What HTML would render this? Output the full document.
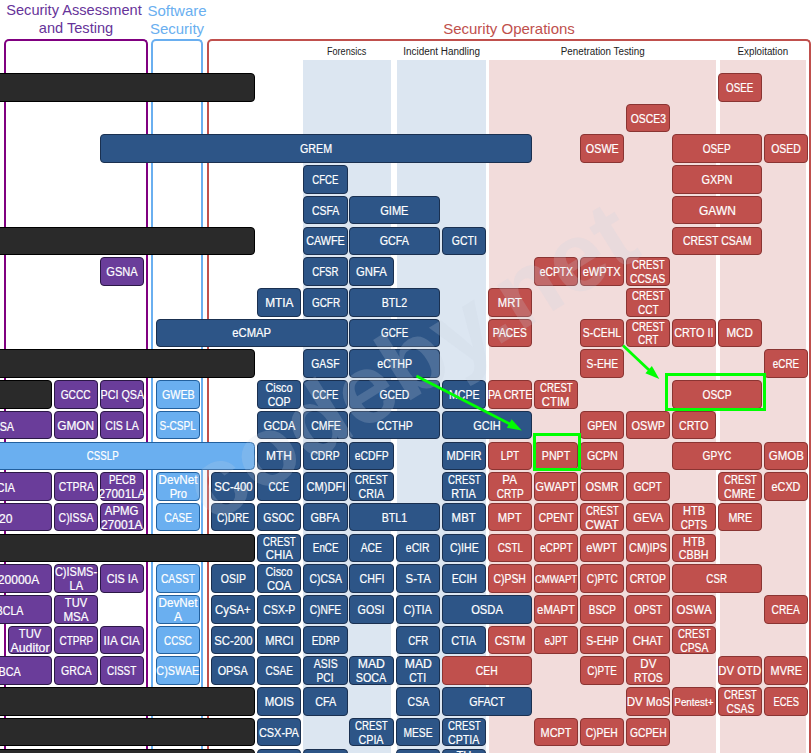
<!DOCTYPE html>
<html><head><meta charset="utf-8"><style>
*{margin:0;padding:0;box-sizing:border-box}
html,body{width:811px;height:753px;overflow:hidden;background:#fff}
body{position:relative;font-family:"Liberation Sans",sans-serif}
.bx{position:absolute;border:1px solid;border-radius:4px;display:flex;padding-top:3px;align-items:center;justify-content:center;color:#fff;font-size:12px;line-height:13.9px;text-align:center;white-space:nowrap;overflow:visible}
.bx span{display:inline-block;-webkit-text-stroke:0.2px #fff}
.bx.sm{font-size:10px}
.flat{border-radius:0 4.5px 4.5px 0}
.sec{position:absolute;border:2px solid;border-bottom:none;border-radius:5px 5px 0 0}
.hd{position:absolute;text-align:center;font-size:15px;line-height:17.6px;white-space:nowrap}
.sub{position:absolute;text-align:center;font-size:10px;color:#222;white-space:nowrap}
.band{position:absolute;top:60px;height:700px}
.et{position:absolute;color:#fff;font-size:12px;white-space:nowrap;display:flex;align-items:center;justify-content:flex-end;padding-top:3px}
.et span{display:inline-block;transform-origin:100% 50%;-webkit-text-stroke:0.2px #fff}
</style></head><body>
<div class="hd" style="left:0;width:152px;top:2.2px;font-size:14.6px;line-height:17.6px;color:#663399">Security Assessment&nbsp;<br>and Testing</div>
<div class="hd" style="left:147px;width:60px;top:1.8px;line-height:18px;color:#6aaff0">Software<br>Security</div>
<div class="hd" style="left:207px;width:604px;top:20.2px;color:#c0504d">Security Operations</div>
<div class="sec" style="left:4px;top:39px;width:144px;height:800px;border-color:#800080"></div>
<div class="sec" style="left:151px;top:39px;width:52px;height:800px;border-color:#6aaff0"></div>
<div class="sec" style="left:207px;top:39px;width:604px;height:800px;border-color:#c0504d"></div>
<div class="band" style="left:303px;width:88px;background:#dce6f1"></div>
<div class="band" style="left:397px;width:89px;background:#dce6f1"></div>
<div class="band" style="left:489px;width:226.5px;background:#f2dcdb"></div>
<div class="band" style="left:720px;width:86px;background:#f2dcdb"></div>
<div class="sub" style="left:303px;width:88px;top:45.5px"><span style="display:inline-block;transform:scaleX(0.910)">Forensics</span></div>
<div class="sub" style="left:397px;width:89px;top:45.5px"><span style="display:inline-block;transform:scaleX(0.993)">Incident Handling</span></div>
<div class="sub" style="left:489px;width:226.5px;top:45.5px"><span style="display:inline-block;transform:scaleX(0.981)">Penetration Testing</span></div>
<div class="sub" style="left:720px;width:86px;top:45.5px"><span style="display:inline-block;transform:scaleX(0.979)">Exploitation</span></div>
<div class="bx" style="left:-60px;top:73px;width:315px;height:28.55px;background:#2a2a2a;border-color:#000000;"></div>
<div class="bx" style="left:-60px;top:226.55px;width:315px;height:28.55px;background:#2a2a2a;border-color:#000000;"></div>
<div class="bx" style="left:-60px;top:349.39px;width:315px;height:28.55px;background:#2a2a2a;border-color:#000000;"></div>
<div class="bx" style="left:-60px;top:533.65px;width:315px;height:28.55px;background:#2a2a2a;border-color:#000000;"></div>
<div class="bx" style="left:-60px;top:687.2px;width:315px;height:28.55px;background:#2a2a2a;border-color:#000000;"></div>
<div class="bx" style="left:-60px;top:717.91px;width:315px;height:28.55px;background:#2a2a2a;border-color:#000000;"></div>
<div class="bx" style="left:-60px;top:748.62px;width:315px;height:28.55px;background:#2a2a2a;border-color:#000000;"></div>
<div class="bx" style="left:-60px;top:380.1px;width:112px;height:28.55px;background:#2a2a2a;border-color:#000000;"></div>
<div class="bx" style="left:718px;top:73px;width:44px;height:28.55px;background:#c0504d;border-color:#8a3432;"><div><span style="transform:scaleX(0.816)">OSEE</span></div></div>
<div class="bx" style="left:626px;top:103.71px;width:44px;height:28.55px;background:#c0504d;border-color:#8a3432;"><div><span style="transform:scaleX(0.865)">OSCE3</span></div></div>
<div class="bx" style="left:100px;top:134.42px;width:432px;height:28.55px;background:#2d5587;border-color:#1a3050;"><div><span style="transform:scaleX(0.892)">GREM</span></div></div>
<div class="bx" style="left:580px;top:134.42px;width:44px;height:28.55px;background:#c0504d;border-color:#8a3432;"><div><span style="transform:scaleX(0.899)">OSWE</span></div></div>
<div class="bx" style="left:672px;top:134.42px;width:90px;height:28.55px;background:#c0504d;border-color:#8a3432;"><div><span style="transform:scaleX(0.835)">OSEP</span></div></div>
<div class="bx" style="left:764px;top:134.42px;width:44px;height:28.55px;background:#c0504d;border-color:#8a3432;"><div><span style="transform:scaleX(0.870)">OSED</span></div></div>
<div class="bx" style="left:303px;top:165.13px;width:45px;height:28.55px;background:#2d5587;border-color:#1a3050;"><div><span style="transform:scaleX(0.799)">CFCE</span></div></div>
<div class="bx" style="left:672px;top:165.13px;width:90px;height:28.55px;background:#c0504d;border-color:#8a3432;"><div><span style="transform:scaleX(0.907)">GXPN</span></div></div>
<div class="bx" style="left:303px;top:195.84px;width:45px;height:28.55px;background:#2d5587;border-color:#1a3050;"><div><span style="transform:scaleX(0.870)">CSFA</span></div></div>
<div class="bx" style="left:349px;top:195.84px;width:91px;height:28.55px;background:#2d5587;border-color:#1a3050;"><div><span style="transform:scaleX(0.921)">GIME</span></div></div>
<div class="bx" style="left:672px;top:195.84px;width:90px;height:28.55px;background:#c0504d;border-color:#8a3432;"><div><span style="transform:scaleX(0.998)">GAWN</span></div></div>
<div class="bx" style="left:303px;top:226.55px;width:45px;height:28.55px;background:#2d5587;border-color:#1a3050;"><div><span style="transform:scaleX(0.900)">CAWFE</span></div></div>
<div class="bx" style="left:349px;top:226.55px;width:91px;height:28.55px;background:#2d5587;border-color:#1a3050;"><div><span style="transform:scaleX(0.893)">GCFA</span></div></div>
<div class="bx" style="left:442px;top:226.55px;width:44px;height:28.55px;background:#2d5587;border-color:#1a3050;"><div><span style="transform:scaleX(0.872)">GCTI</span></div></div>
<div class="bx" style="left:672px;top:226.55px;width:90px;height:28.55px;background:#c0504d;border-color:#8a3432;"><div><span style="transform:scaleX(0.874)">CREST CSAM</span></div></div>
<div class="bx" style="left:100px;top:257.26px;width:44px;height:28.55px;background:#6a3d9a;border-color:#2b1846;"><div><span style="transform:scaleX(0.925)">GSNA</span></div></div>
<div class="bx" style="left:303px;top:257.26px;width:45px;height:28.55px;background:#2d5587;border-color:#1a3050;"><div><span style="transform:scaleX(0.805)">CFSR</span></div></div>
<div class="bx" style="left:349px;top:257.26px;width:45px;height:28.55px;background:#2d5587;border-color:#1a3050;"><div><span style="transform:scaleX(0.942)">GNFA</span></div></div>
<div class="bx" style="left:534px;top:257.26px;width:44px;height:28.55px;background:#c0504d;border-color:#8a3432;"><div><span style="transform:scaleX(0.863)">eCPTX</span></div></div>
<div class="bx" style="left:580px;top:257.26px;width:44px;height:28.55px;background:#c0504d;border-color:#8a3432;"><div><span style="transform:scaleX(0.916)">eWPTX</span></div></div>
<div class="bx two" style="left:626px;top:257.26px;width:44px;height:28.55px;background:#c0504d;border-color:#8a3432;"><div><span style="transform:scaleX(0.809)">CREST</span><br><span style="transform:scaleX(0.850)">CCSAS</span></div></div>
<div class="bx" style="left:257px;top:287.97px;width:44px;height:28.55px;background:#2d5587;border-color:#1a3050;"><div><span style="transform:scaleX(0.991)">MTIA</span></div></div>
<div class="bx" style="left:303px;top:287.97px;width:45px;height:28.55px;background:#2d5587;border-color:#1a3050;"><div><span style="transform:scaleX(0.830)">GCFR</span></div></div>
<div class="bx" style="left:349px;top:287.97px;width:91px;height:28.55px;background:#2d5587;border-color:#1a3050;"><div><span style="transform:scaleX(0.886)">BTL2</span></div></div>
<div class="bx" style="left:488px;top:287.97px;width:44px;height:28.55px;background:#c0504d;border-color:#8a3432;"><div><span style="transform:scaleX(0.939)">MRT</span></div></div>
<div class="bx two" style="left:626px;top:287.97px;width:44px;height:28.55px;background:#c0504d;border-color:#8a3432;"><div><span style="transform:scaleX(0.809)">CREST</span><br><span style="transform:scaleX(0.842)">CCT</span></div></div>
<div class="bx" style="left:156px;top:318.68px;width:192px;height:28.55px;background:#2d5587;border-color:#1a3050;"><div><span style="transform:scaleX(0.937)">eCMAP</span></div></div>
<div class="bx" style="left:349px;top:318.68px;width:91px;height:28.55px;background:#2d5587;border-color:#1a3050;"><div><span style="transform:scaleX(0.813)">GCFE</span></div></div>
<div class="bx" style="left:488px;top:318.68px;width:44px;height:28.55px;background:#c0504d;border-color:#8a3432;"><div><span style="transform:scaleX(0.858)">PACES</span></div></div>
<div class="bx" style="left:580px;top:318.68px;width:44px;height:28.55px;background:#c0504d;border-color:#8a3432;"><div><span style="transform:scaleX(0.870)">S-CEHL</span></div></div>
<div class="bx two" style="left:626px;top:318.68px;width:44px;height:28.55px;background:#c0504d;border-color:#8a3432;"><div><span style="transform:scaleX(0.809)">CREST</span><br><span style="transform:scaleX(0.843)">CRT</span></div></div>
<div class="bx" style="left:672px;top:318.68px;width:44px;height:28.55px;background:#c0504d;border-color:#8a3432;"><div><span style="transform:scaleX(0.902)">CRTO II</span></div></div>
<div class="bx" style="left:718px;top:318.68px;width:44px;height:28.55px;background:#c0504d;border-color:#8a3432;"><div><span style="transform:scaleX(0.966)">MCD</span></div></div>
<div class="bx" style="left:303px;top:349.39px;width:45px;height:28.55px;background:#2d5587;border-color:#1a3050;"><div><span style="transform:scaleX(0.866)">GASF</span></div></div>
<div class="bx" style="left:349px;top:349.39px;width:91px;height:28.55px;background:#2d5587;border-color:#1a3050;"><div><span style="transform:scaleX(0.887)">eCTHP</span></div></div>
<div class="bx" style="left:580px;top:349.39px;width:44px;height:28.55px;background:#c0504d;border-color:#8a3432;"><div><span style="transform:scaleX(0.862)">S-EHE</span></div></div>
<div class="bx" style="left:764px;top:349.39px;width:44px;height:28.55px;background:#c0504d;border-color:#8a3432;"><div><span style="transform:scaleX(0.822)">eCRE</span></div></div>
<div class="bx" style="left:54px;top:380.1px;width:44px;height:28.55px;background:#6a3d9a;border-color:#2b1846;"><div><span style="transform:scaleX(0.847)">GCCC</span></div></div>
<div class="bx" style="left:100px;top:380.1px;width:44px;height:28.55px;background:#6a3d9a;border-color:#2b1846;"><div><span style="transform:scaleX(0.897)">PCI QSA</span></div></div>
<div class="bx" style="left:156px;top:380.1px;width:44px;height:28.55px;background:#6aaff0;border-color:#22609e;"><div><span style="transform:scaleX(0.896)">GWEB</span></div></div>
<div class="bx two" style="left:257px;top:380.1px;width:44px;height:28.55px;background:#2d5587;border-color:#1a3050;"><div><span style="transform:scaleX(0.905)">Cisco</span><br><span style="transform:scaleX(0.875)">COP</span></div></div>
<div class="bx" style="left:303px;top:380.1px;width:45px;height:28.55px;background:#2d5587;border-color:#1a3050;"><div><span style="transform:scaleX(0.799)">CCFE</span></div></div>
<div class="bx" style="left:349px;top:380.1px;width:91px;height:28.55px;background:#2d5587;border-color:#1a3050;"><div><span style="transform:scaleX(0.859)">GCED</span></div></div>
<div class="bx" style="left:442px;top:380.1px;width:44px;height:28.55px;background:#2d5587;border-color:#1a3050;"><div><span style="transform:scaleX(0.883)">MCPE</span></div></div>
<div class="bx" style="left:488px;top:380.1px;width:44px;height:28.55px;background:#c0504d;border-color:#8a3432;"><div><span style="transform:scaleX(0.885)">PA CRTE</span></div></div>
<div class="bx two" style="left:534px;top:380.1px;width:44px;height:28.55px;background:#c0504d;border-color:#8a3432;"><div><span style="transform:scaleX(0.809)">CREST</span><br><span style="transform:scaleX(0.941)">CTIM</span></div></div>
<div class="bx" style="left:672px;top:380.1px;width:90px;height:28.55px;background:#c0504d;border-color:#8a3432;"><div><span style="transform:scaleX(0.856)">OSCP</span></div></div>
<div class="bx" style="left:-60px;top:410.81px;width:112px;height:28.55px;background:#6a3d9a;border-color:#2b1846;"></div>
<div class="bx" style="left:54px;top:410.81px;width:44px;height:28.55px;background:#6a3d9a;border-color:#2b1846;"><div><span style="transform:scaleX(0.988)">GMON</span></div></div>
<div class="bx" style="left:100px;top:410.81px;width:44px;height:28.55px;background:#6a3d9a;border-color:#2b1846;"><div><span style="transform:scaleX(0.882)">CIS LA</span></div></div>
<div class="bx" style="left:156px;top:410.81px;width:44px;height:28.55px;background:#6aaff0;border-color:#22609e;"><div><span style="transform:scaleX(0.843)">S-CSPL</span></div></div>
<div class="bx" style="left:257px;top:410.81px;width:44px;height:28.55px;background:#2d5587;border-color:#1a3050;"><div><span style="transform:scaleX(0.918)">GCDA</span></div></div>
<div class="bx" style="left:303px;top:410.81px;width:45px;height:28.55px;background:#2d5587;border-color:#1a3050;"><div><span style="transform:scaleX(0.873)">CMFE</span></div></div>
<div class="bx" style="left:349px;top:410.81px;width:91px;height:28.55px;background:#2d5587;border-color:#1a3050;"><div><span style="transform:scaleX(0.872)">CCTHP</span></div></div>
<div class="bx" style="left:442px;top:410.81px;width:90px;height:28.55px;background:#2d5587;border-color:#1a3050;"><div><span style="transform:scaleX(0.913)">GCIH</span></div></div>
<div class="bx" style="left:580px;top:410.81px;width:44px;height:28.55px;background:#c0504d;border-color:#8a3432;"><div><span style="transform:scaleX(0.872)">GPEN</span></div></div>
<div class="bx" style="left:626px;top:410.81px;width:44px;height:28.55px;background:#c0504d;border-color:#8a3432;"><div><span style="transform:scaleX(0.916)">OSWP</span></div></div>
<div class="bx" style="left:672px;top:410.81px;width:44px;height:28.55px;background:#c0504d;border-color:#8a3432;"><div><span style="transform:scaleX(0.881)">CRTO</span></div></div>
<div class="bx flat" style="left:-49.5px;top:441.52px;width:304.5px;height:28.55px;background:#6aaff0;border-color:#22609e;"><div><span style="transform:scaleX(0.811)">CSSLP</span></div></div>
<div class="bx" style="left:257px;top:441.52px;width:44px;height:28.55px;background:#2d5587;border-color:#1a3050;"><div><span style="transform:scaleX(0.994)">MTH</span></div></div>
<div class="bx" style="left:303px;top:441.52px;width:45px;height:28.55px;background:#2d5587;border-color:#1a3050;"><div><span style="transform:scaleX(0.859)">CDRP</span></div></div>
<div class="bx" style="left:349px;top:441.52px;width:45px;height:28.55px;background:#2d5587;border-color:#1a3050;"><div><span style="transform:scaleX(0.862)">eCDFP</span></div></div>
<div class="bx" style="left:442px;top:441.52px;width:44px;height:28.55px;background:#2d5587;border-color:#1a3050;"><div><span style="transform:scaleX(0.925)">MDFIR</span></div></div>
<div class="bx" style="left:488px;top:441.52px;width:44px;height:28.55px;background:#c0504d;border-color:#8a3432;"><div><span style="transform:scaleX(0.833)">LPT</span></div></div>
<div class="bx" style="left:534px;top:441.52px;width:44px;height:28.55px;background:#c0504d;border-color:#8a3432;"><div><span style="transform:scaleX(0.885)">PNPT</span></div></div>
<div class="bx" style="left:580px;top:441.52px;width:44px;height:28.55px;background:#c0504d;border-color:#8a3432;"><div><span style="transform:scaleX(0.891)">GCPN</span></div></div>
<div class="bx" style="left:672px;top:441.52px;width:90px;height:28.55px;background:#c0504d;border-color:#8a3432;"><div><span style="transform:scaleX(0.846)">GPYC</span></div></div>
<div class="bx" style="left:764px;top:441.52px;width:44px;height:28.55px;background:#c0504d;border-color:#8a3432;"><div><span style="transform:scaleX(0.954)">GMOB</span></div></div>
<div class="bx" style="left:-60px;top:472.23px;width:112px;height:28.55px;background:#6a3d9a;border-color:#2b1846;"></div>
<div class="bx" style="left:54px;top:472.23px;width:44px;height:28.55px;background:#6a3d9a;border-color:#2b1846;"><div><span style="transform:scaleX(0.866)">CTPRA</span></div></div>
<div class="bx two" style="left:100px;top:472.23px;width:44px;height:28.55px;background:#6a3d9a;border-color:#2b1846;"><div><span style="transform:scaleX(0.818)">PECB</span><br><span style="transform:scaleX(0.978)">27001LA</span></div></div>
<div class="bx two" style="left:156px;top:472.23px;width:44px;height:28.55px;background:#6aaff0;border-color:#22609e;"><div><span style="transform:scaleX(0.972)">DevNet</span><br><span style="transform:scaleX(0.933)">Pro</span></div></div>
<div class="bx" style="left:211px;top:472.23px;width:44px;height:28.55px;background:#2d5587;border-color:#1a3050;"><div><span style="transform:scaleX(0.942)">SC-400</span></div></div>
<div class="bx" style="left:257px;top:472.23px;width:44px;height:28.55px;background:#2d5587;border-color:#1a3050;"><div><span style="transform:scaleX(0.806)">CCE</span></div></div>
<div class="bx" style="left:303px;top:472.23px;width:45px;height:28.55px;background:#2d5587;border-color:#1a3050;"><div><span style="transform:scaleX(0.926)">CM)DFI</span></div></div>
<div class="bx two" style="left:349px;top:472.23px;width:45px;height:28.55px;background:#2d5587;border-color:#1a3050;"><div><span style="transform:scaleX(0.809)">CREST</span><br><span style="transform:scaleX(0.891)">CRIA</span></div></div>
<div class="bx two" style="left:442px;top:472.23px;width:44px;height:28.55px;background:#2d5587;border-color:#1a3050;"><div><span style="transform:scaleX(0.809)">CREST</span><br><span style="transform:scaleX(0.909)">RTIA</span></div></div>
<div class="bx two" style="left:488px;top:472.23px;width:44px;height:28.55px;background:#c0504d;border-color:#8a3432;"><div><span style="transform:scaleX(0.967)">PA</span><br><span style="transform:scaleX(0.838)">CRTP</span></div></div>
<div class="bx" style="left:534px;top:472.23px;width:44px;height:28.55px;background:#c0504d;border-color:#8a3432;"><div><span style="transform:scaleX(0.938)">GWAPT</span></div></div>
<div class="bx" style="left:580px;top:472.23px;width:44px;height:28.55px;background:#c0504d;border-color:#8a3432;"><div><span style="transform:scaleX(0.922)">OSMR</span></div></div>
<div class="bx" style="left:626px;top:472.23px;width:44px;height:28.55px;background:#c0504d;border-color:#8a3432;"><div><span style="transform:scaleX(0.851)">GCPT</span></div></div>
<div class="bx two" style="left:718px;top:472.23px;width:44px;height:28.55px;background:#c0504d;border-color:#8a3432;"><div><span style="transform:scaleX(0.809)">CREST</span><br><span style="transform:scaleX(0.880)">CMRE</span></div></div>
<div class="bx" style="left:764px;top:472.23px;width:44px;height:28.55px;background:#c0504d;border-color:#8a3432;"><div><span style="transform:scaleX(0.900)">eCXD</span></div></div>
<div class="bx" style="left:-60px;top:502.94px;width:112px;height:28.55px;background:#6a3d9a;border-color:#2b1846;"></div>
<div class="bx" style="left:54px;top:502.94px;width:44px;height:28.55px;background:#6a3d9a;border-color:#2b1846;"><div><span style="transform:scaleX(0.869)">C)ISSA</span></div></div>
<div class="bx two" style="left:100px;top:502.94px;width:44px;height:28.55px;background:#6a3d9a;border-color:#2b1846;"><div><span style="transform:scaleX(0.953)">APMG</span><br><span style="transform:scaleX(1.005)">27001A</span></div></div>
<div class="bx" style="left:156px;top:502.94px;width:44px;height:28.55px;background:#6aaff0;border-color:#22609e;"><div><span style="transform:scaleX(0.843)">CASE</span></div></div>
<div class="bx" style="left:211px;top:502.94px;width:44px;height:28.55px;background:#2d5587;border-color:#1a3050;"><div><span style="transform:scaleX(0.847)">C)DRE</span></div></div>
<div class="bx" style="left:257px;top:502.94px;width:44px;height:28.55px;background:#2d5587;border-color:#1a3050;"><div><span style="transform:scaleX(0.870)">GSOC</span></div></div>
<div class="bx" style="left:303px;top:502.94px;width:45px;height:28.55px;background:#2d5587;border-color:#1a3050;"><div><span style="transform:scaleX(0.903)">GBFA</span></div></div>
<div class="bx" style="left:349px;top:502.94px;width:91px;height:28.55px;background:#2d5587;border-color:#1a3050;"><div><span style="transform:scaleX(0.886)">BTL1</span></div></div>
<div class="bx" style="left:442px;top:502.94px;width:44px;height:28.55px;background:#2d5587;border-color:#1a3050;"><div><span style="transform:scaleX(0.951)">MBT</span></div></div>
<div class="bx" style="left:488px;top:502.94px;width:44px;height:28.55px;background:#c0504d;border-color:#8a3432;"><div><span style="transform:scaleX(0.937)">MPT</span></div></div>
<div class="bx" style="left:534px;top:502.94px;width:44px;height:28.55px;background:#c0504d;border-color:#8a3432;"><div><span style="transform:scaleX(0.859)">CPENT</span></div></div>
<div class="bx two" style="left:580px;top:502.94px;width:44px;height:28.55px;background:#c0504d;border-color:#8a3432;"><div><span style="transform:scaleX(0.809)">CREST</span><br><span style="transform:scaleX(0.979)">CWAT</span></div></div>
<div class="bx" style="left:626px;top:502.94px;width:44px;height:28.55px;background:#c0504d;border-color:#8a3432;"><div><span style="transform:scaleX(0.921)">GEVA</span></div></div>
<div class="bx two" style="left:672px;top:502.94px;width:44px;height:28.55px;background:#c0504d;border-color:#8a3432;"><div><span style="transform:scaleX(0.915)">HTB</span><br><span style="transform:scaleX(0.827)">CPTS</span></div></div>
<div class="bx" style="left:718px;top:502.94px;width:44px;height:28.55px;background:#c0504d;border-color:#8a3432;"><div><span style="transform:scaleX(0.895)">MRE</span></div></div>
<div class="bx two" style="left:257px;top:533.65px;width:44px;height:28.55px;background:#2d5587;border-color:#1a3050;"><div><span style="transform:scaleX(0.809)">CREST</span><br><span style="transform:scaleX(0.948)">CHIA</span></div></div>
<div class="bx" style="left:303px;top:533.65px;width:45px;height:28.55px;background:#2d5587;border-color:#1a3050;"><div><span style="transform:scaleX(0.821)">EnCE</span></div></div>
<div class="bx" style="left:349px;top:533.65px;width:45px;height:28.55px;background:#2d5587;border-color:#1a3050;"><div><span style="transform:scaleX(0.860)">ACE</span></div></div>
<div class="bx" style="left:396px;top:533.65px;width:44px;height:28.55px;background:#2d5587;border-color:#1a3050;"><div><span style="transform:scaleX(0.863)">eCIR</span></div></div>
<div class="bx" style="left:442px;top:533.65px;width:44px;height:28.55px;background:#2d5587;border-color:#1a3050;"><div><span style="transform:scaleX(0.879)">C)IHE</span></div></div>
<div class="bx" style="left:488px;top:533.65px;width:44px;height:28.55px;background:#c0504d;border-color:#8a3432;"><div><span style="transform:scaleX(0.825)">CSTL</span></div></div>
<div class="bx" style="left:534px;top:533.65px;width:44px;height:28.55px;background:#c0504d;border-color:#8a3432;"><div><span style="transform:scaleX(0.848)">eCPPT</span></div></div>
<div class="bx" style="left:580px;top:533.65px;width:44px;height:28.55px;background:#c0504d;border-color:#8a3432;"><div><span style="transform:scaleX(0.920)">eWPT</span></div></div>
<div class="bx" style="left:626px;top:533.65px;width:44px;height:28.55px;background:#c0504d;border-color:#8a3432;"><div><span style="transform:scaleX(0.900)">CM)IPS</span></div></div>
<div class="bx two" style="left:672px;top:533.65px;width:44px;height:28.55px;background:#c0504d;border-color:#8a3432;"><div><span style="transform:scaleX(0.915)">HTB</span><br><span style="transform:scaleX(0.894)">CBBH</span></div></div>
<div class="bx" style="left:-60px;top:564.36px;width:112px;height:28.55px;background:#6a3d9a;border-color:#2b1846;"></div>
<div class="bx two" style="left:54px;top:564.36px;width:44px;height:28.55px;background:#6a3d9a;border-color:#2b1846;"><div><span style="transform:scaleX(0.917)">C)ISMS-</span><br><span style="transform:scaleX(0.917)">LA</span></div></div>
<div class="bx" style="left:100px;top:564.36px;width:44px;height:28.55px;background:#6a3d9a;border-color:#2b1846;"><div><span style="transform:scaleX(0.904)">CIS IA</span></div></div>
<div class="bx" style="left:156px;top:564.36px;width:44px;height:28.55px;background:#6aaff0;border-color:#22609e;"><div><span style="transform:scaleX(0.856)">CASST</span></div></div>
<div class="bx" style="left:211px;top:564.36px;width:44px;height:28.55px;background:#2d5587;border-color:#1a3050;"><div><span style="transform:scaleX(0.875)">OSIP</span></div></div>
<div class="bx two" style="left:257px;top:564.36px;width:44px;height:28.55px;background:#2d5587;border-color:#1a3050;"><div><span style="transform:scaleX(0.905)">Cisco</span><br><span style="transform:scaleX(0.931)">COA</span></div></div>
<div class="bx" style="left:303px;top:564.36px;width:45px;height:28.55px;background:#2d5587;border-color:#1a3050;"><div><span style="transform:scaleX(0.868)">C)CSA</span></div></div>
<div class="bx" style="left:349px;top:564.36px;width:45px;height:28.55px;background:#2d5587;border-color:#1a3050;"><div><span style="transform:scaleX(0.887)">CHFI</span></div></div>
<div class="bx" style="left:396px;top:564.36px;width:44px;height:28.55px;background:#2d5587;border-color:#1a3050;"><div><span style="transform:scaleX(0.957)">S-TA</span></div></div>
<div class="bx" style="left:442px;top:564.36px;width:44px;height:28.55px;background:#2d5587;border-color:#1a3050;"><div><span style="transform:scaleX(0.876)">ECIH</span></div></div>
<div class="bx" style="left:488px;top:564.36px;width:44px;height:28.55px;background:#c0504d;border-color:#8a3432;"><div><span style="transform:scaleX(0.869)">C)PSH</span></div></div>
<div class="bx sm" style="left:534px;top:564.36px;width:44px;height:28.55px;background:#c0504d;border-color:#8a3432;"><div><span style="transform:scaleX(0.958)">CMWAPT</span></div></div>
<div class="bx" style="left:580px;top:564.36px;width:44px;height:28.55px;background:#c0504d;border-color:#8a3432;"><div><span style="transform:scaleX(0.844)">C)PTC</span></div></div>
<div class="bx" style="left:626px;top:564.36px;width:44px;height:28.55px;background:#c0504d;border-color:#8a3432;"><div><span style="transform:scaleX(0.870)">CRTOP</span></div></div>
<div class="bx" style="left:672px;top:564.36px;width:90px;height:28.55px;background:#c0504d;border-color:#8a3432;"><div><span style="transform:scaleX(0.814)">CSR</span></div></div>
<div class="bx" style="left:-60px;top:595.07px;width:112px;height:28.55px;background:#6a3d9a;border-color:#2b1846;"></div>
<div class="bx two" style="left:54px;top:595.07px;width:44px;height:28.55px;background:#6a3d9a;border-color:#2b1846;"><div><span style="transform:scaleX(0.929)">TUV</span><br><span style="transform:scaleX(0.969)">MSA</span></div></div>
<div class="bx two" style="left:156px;top:595.07px;width:44px;height:28.55px;background:#6aaff0;border-color:#22609e;"><div><span style="transform:scaleX(0.972)">DevNet</span><br><span style="transform:scaleX(1.003)">A</span></div></div>
<div class="bx" style="left:211px;top:595.07px;width:44px;height:28.55px;background:#2d5587;border-color:#1a3050;"><div><span style="transform:scaleX(0.947)">CySA+</span></div></div>
<div class="bx" style="left:257px;top:595.07px;width:44px;height:28.55px;background:#2d5587;border-color:#1a3050;"><div><span style="transform:scaleX(0.871)">CSX-P</span></div></div>
<div class="bx" style="left:303px;top:595.07px;width:45px;height:28.55px;background:#2d5587;border-color:#1a3050;"><div><span style="transform:scaleX(0.854)">C)NFE</span></div></div>
<div class="bx" style="left:349px;top:595.07px;width:45px;height:28.55px;background:#2d5587;border-color:#1a3050;"><div><span style="transform:scaleX(0.892)">GOSI</span></div></div>
<div class="bx" style="left:396px;top:595.07px;width:44px;height:28.55px;background:#2d5587;border-color:#1a3050;"><div><span style="transform:scaleX(0.906)">C)TIA</span></div></div>
<div class="bx" style="left:442px;top:595.07px;width:90px;height:28.55px;background:#2d5587;border-color:#1a3050;"><div><span style="transform:scaleX(0.931)">OSDA</span></div></div>
<div class="bx" style="left:534px;top:595.07px;width:44px;height:28.55px;background:#c0504d;border-color:#8a3432;"><div><span style="transform:scaleX(0.945)">eMAPT</span></div></div>
<div class="bx" style="left:580px;top:595.07px;width:44px;height:28.55px;background:#c0504d;border-color:#8a3432;"><div><span style="transform:scaleX(0.829)">BSCP</span></div></div>
<div class="bx" style="left:626px;top:595.07px;width:44px;height:28.55px;background:#c0504d;border-color:#8a3432;"><div><span style="transform:scaleX(0.863)">OPST</span></div></div>
<div class="bx" style="left:672px;top:595.07px;width:44px;height:28.55px;background:#c0504d;border-color:#8a3432;"><div><span style="transform:scaleX(0.967)">OSWA</span></div></div>
<div class="bx" style="left:764px;top:595.07px;width:44px;height:28.55px;background:#c0504d;border-color:#8a3432;"><div><span style="transform:scaleX(0.848)">CREA</span></div></div>
<div class="bx two" style="left:8px;top:625.78px;width:44px;height:28.55px;background:#6a3d9a;border-color:#2b1846;"><div><span style="transform:scaleX(0.929)">TUV</span><br><span style="transform:scaleX(1.030)">Auditor</span></div></div>
<div class="bx" style="left:54px;top:625.78px;width:44px;height:28.55px;background:#6a3d9a;border-color:#2b1846;"><div><span style="transform:scaleX(0.831)">CTPRP</span></div></div>
<div class="bx" style="left:100px;top:625.78px;width:44px;height:28.55px;background:#6a3d9a;border-color:#2b1846;"><div><span style="transform:scaleX(0.971)">IIA CIA</span></div></div>
<div class="bx" style="left:156px;top:625.78px;width:44px;height:28.55px;background:#6aaff0;border-color:#22609e;"><div><span style="transform:scaleX(0.824)">CCSC</span></div></div>
<div class="bx" style="left:211px;top:625.78px;width:44px;height:28.55px;background:#2d5587;border-color:#1a3050;"><div><span style="transform:scaleX(0.942)">SC-200</span></div></div>
<div class="bx" style="left:257px;top:625.78px;width:44px;height:28.55px;background:#2d5587;border-color:#1a3050;"><div><span style="transform:scaleX(0.924)">MRCI</span></div></div>
<div class="bx" style="left:303px;top:625.78px;width:45px;height:28.55px;background:#2d5587;border-color:#1a3050;"><div><span style="transform:scaleX(0.839)">EDRP</span></div></div>
<div class="bx" style="left:396px;top:625.78px;width:44px;height:28.55px;background:#2d5587;border-color:#1a3050;"><div><span style="transform:scaleX(0.810)">CFR</span></div></div>
<div class="bx" style="left:442px;top:625.78px;width:44px;height:28.55px;background:#2d5587;border-color:#1a3050;"><div><span style="transform:scaleX(0.907)">CTIA</span></div></div>
<div class="bx" style="left:488px;top:625.78px;width:44px;height:28.55px;background:#c0504d;border-color:#8a3432;"><div><span style="transform:scaleX(0.903)">CSTM</span></div></div>
<div class="bx" style="left:534px;top:625.78px;width:44px;height:28.55px;background:#c0504d;border-color:#8a3432;"><div><span style="transform:scaleX(0.827)">eJPT</span></div></div>
<div class="bx" style="left:580px;top:625.78px;width:44px;height:28.55px;background:#c0504d;border-color:#8a3432;"><div><span style="transform:scaleX(0.879)">S-EHP</span></div></div>
<div class="bx" style="left:626px;top:625.78px;width:44px;height:28.55px;background:#c0504d;border-color:#8a3432;"><div><span style="transform:scaleX(0.952)">CHAT</span></div></div>
<div class="bx two" style="left:672px;top:625.78px;width:44px;height:28.55px;background:#c0504d;border-color:#8a3432;"><div><span style="transform:scaleX(0.809)">CREST</span><br><span style="transform:scaleX(0.862)">CPSA</span></div></div>
<div class="bx" style="left:-60px;top:656.49px;width:112px;height:28.55px;background:#6a3d9a;border-color:#2b1846;"></div>
<div class="bx" style="left:54px;top:656.49px;width:44px;height:28.55px;background:#6a3d9a;border-color:#2b1846;"><div><span style="transform:scaleX(0.882)">GRCA</span></div></div>
<div class="bx" style="left:100px;top:656.49px;width:44px;height:28.55px;background:#6a3d9a;border-color:#2b1846;"><div><span style="transform:scaleX(0.833)">CISST</span></div></div>
<div class="bx" style="left:156px;top:656.49px;width:44px;height:28.55px;background:#6aaff0;border-color:#22609e;"><div><span style="transform:scaleX(0.901)">C)SWAE</span></div></div>
<div class="bx" style="left:211px;top:656.49px;width:44px;height:28.55px;background:#2d5587;border-color:#1a3050;"><div><span style="transform:scaleX(0.897)">OPSA</span></div></div>
<div class="bx" style="left:257px;top:656.49px;width:44px;height:28.55px;background:#2d5587;border-color:#1a3050;"><div><span style="transform:scaleX(0.843)">CSAE</span></div></div>
<div class="bx two" style="left:303px;top:656.49px;width:45px;height:28.55px;background:#2d5587;border-color:#1a3050;"><div><span style="transform:scaleX(0.875)">ASIS</span><br><span style="transform:scaleX(0.852)">PCI</span></div></div>
<div class="bx two" style="left:349px;top:656.49px;width:45px;height:28.55px;background:#2d5587;border-color:#1a3050;"><div><span style="transform:scaleX(1.020)">MAD</span><br><span style="transform:scaleX(0.898)">SOCA</span></div></div>
<div class="bx two" style="left:396px;top:656.49px;width:44px;height:28.55px;background:#2d5587;border-color:#1a3050;"><div><span style="transform:scaleX(1.020)">MAD</span><br><span style="transform:scaleX(0.867)">CTI</span></div></div>
<div class="bx" style="left:442px;top:656.49px;width:90px;height:28.55px;background:#c0504d;border-color:#8a3432;"><div><span style="transform:scaleX(0.864)">CEH</span></div></div>
<div class="bx" style="left:580px;top:656.49px;width:44px;height:28.55px;background:#c0504d;border-color:#8a3432;"><div><span style="transform:scaleX(0.825)">C)PTE</span></div></div>
<div class="bx two" style="left:626px;top:656.49px;width:44px;height:28.55px;background:#c0504d;border-color:#8a3432;"><div><span style="transform:scaleX(0.960)">DV</span><br><span style="transform:scaleX(0.871)">RTOS</span></div></div>
<div class="bx" style="left:718px;top:656.49px;width:44px;height:28.55px;background:#c0504d;border-color:#8a3432;"><div><span style="transform:scaleX(0.946)">DV OTD</span></div></div>
<div class="bx" style="left:764px;top:656.49px;width:44px;height:28.55px;background:#c0504d;border-color:#8a3432;"><div><span style="transform:scaleX(0.909)">MVRE</span></div></div>
<div class="bx" style="left:257px;top:687.2px;width:44px;height:28.55px;background:#2d5587;border-color:#1a3050;"><div><span style="transform:scaleX(0.957)">MOIS</span></div></div>
<div class="bx" style="left:303px;top:687.2px;width:45px;height:28.55px;background:#2d5587;border-color:#1a3050;"><div><span style="transform:scaleX(0.897)">CFA</span></div></div>
<div class="bx" style="left:396px;top:687.2px;width:44px;height:28.55px;background:#2d5587;border-color:#1a3050;"><div><span style="transform:scaleX(0.875)">CSA</span></div></div>
<div class="bx" style="left:442px;top:687.2px;width:90px;height:28.55px;background:#2d5587;border-color:#1a3050;"><div><span style="transform:scaleX(0.887)">GFACT</span></div></div>
<div class="bx" style="left:626px;top:687.2px;width:44px;height:28.55px;background:#c0504d;border-color:#8a3432;"><div><span style="transform:scaleX(0.967)">DV MoS</span></div></div>
<div class="bx sm" style="left:672px;top:687.2px;width:44px;height:28.55px;background:#c0504d;border-color:#8a3432;"><div><span style="transform:scaleX(0.983)">Pentest+</span></div></div>
<div class="bx two" style="left:718px;top:687.2px;width:44px;height:28.55px;background:#c0504d;border-color:#8a3432;"><div><span style="transform:scaleX(0.809)">CREST</span><br><span style="transform:scaleX(0.854)">CSAS</span></div></div>
<div class="bx" style="left:764px;top:687.2px;width:44px;height:28.55px;background:#c0504d;border-color:#8a3432;"><div><span style="transform:scaleX(0.780)">ECES</span></div></div>
<div class="bx" style="left:257px;top:717.91px;width:44px;height:28.55px;background:#2d5587;border-color:#1a3050;"><div><span style="transform:scaleX(0.913)">CSX-PA</span></div></div>
<div class="bx two" style="left:349px;top:717.91px;width:45px;height:28.55px;background:#2d5587;border-color:#1a3050;"><div><span style="transform:scaleX(0.809)">CREST</span><br><span style="transform:scaleX(0.895)">CPIA</span></div></div>
<div class="bx" style="left:396px;top:717.91px;width:44px;height:28.55px;background:#2d5587;border-color:#1a3050;"><div><span style="transform:scaleX(0.855)">MESE</span></div></div>
<div class="bx two" style="left:442px;top:717.91px;width:44px;height:28.55px;background:#2d5587;border-color:#1a3050;"><div><span style="transform:scaleX(0.809)">CREST</span><br><span style="transform:scaleX(0.888)">CPTIA</span></div></div>
<div class="bx" style="left:534px;top:717.91px;width:44px;height:28.55px;background:#c0504d;border-color:#8a3432;"><div><span style="transform:scaleX(0.910)">MCPT</span></div></div>
<div class="bx" style="left:580px;top:717.91px;width:44px;height:28.55px;background:#c0504d;border-color:#8a3432;"><div><span style="transform:scaleX(0.859)">C)PEH</span></div></div>
<div class="bx" style="left:626px;top:717.91px;width:44px;height:28.55px;background:#c0504d;border-color:#8a3432;"><div><span style="transform:scaleX(0.860)">GCPEH</span></div></div>
<div class="bx" style="left:257px;top:748.62px;width:44px;height:28.55px;background:#2d5587;border-color:#1a3050;"></div>
<div class="bx" style="left:303px;top:748.62px;width:45px;height:28.55px;background:#2d5587;border-color:#1a3050;"></div>
<div class="bx" style="left:396px;top:748.62px;width:44px;height:28.55px;background:#2d5587;border-color:#1a3050;"></div>
<div class="bx two" style="left:442px;top:748.62px;width:44px;height:28.55px;background:#2d5587;border-color:#1a3050;"><div><span style="transform:scaleX(0.939)">TH</span><br><span style="transform:scaleX(0.897)">XX</span></div></div>
<div class="et" style="left:-60px;width:74.4px;top:410.81px;height:28.55px"><span style="transform:scaleX(0.897)">SA</span></div>
<div class="et" style="left:-60px;width:75.5px;top:472.23px;height:28.55px"><span style="transform:scaleX(0.924)">CIA</span></div>
<div class="et" style="left:-60px;width:72.8px;top:502.94px;height:28.55px"><span style="transform:scaleX(1.005)">20</span></div>
<div class="et" style="left:-60px;width:99.3px;top:564.36px;height:28.55px"><span style="transform:scaleX(1.005)">20000A</span></div>
<div class="et" style="left:-60px;width:83.3px;top:595.07px;height:28.55px"><span style="transform:scaleX(0.882)">BCLA</span></div>
<div class="et" style="left:-60px;width:80.7px;top:656.49px;height:28.55px"><span style="transform:scaleX(0.900)">BCA</span></div>
<svg width="811" height="753" style="position:absolute;left:0;top:0">
<text x="211" y="525" transform="rotate(-32 211 525)" font-family="Liberation Sans" font-weight="bold" font-size="98" fill="#c8d2e1" fill-opacity="0.2">codeby.net</text>
<g fill="none" stroke="#00ff00" stroke-width="3">
<rect x="534.5" y="434.5" width="45" height="35"/>
<rect x="666.5" y="374.5" width="98" height="35"/>
<line x1="416.4" y1="375.9" x2="510" y2="424" stroke-width="2.8"/>
<line x1="623" y1="345.5" x2="649.5" y2="370.5" stroke-width="2.8"/>
</g>
<g fill="#00ff00">
<polygon points="521.8,430.5 506.8,427.8 511.6,419.3"/>
<polygon points="659.3,379 645.4,373.3 651.9,366.1"/>
</g>
</svg>
</body></html>
